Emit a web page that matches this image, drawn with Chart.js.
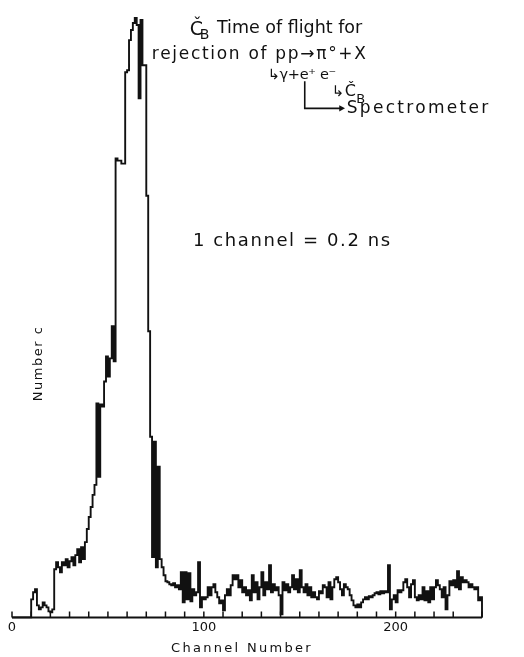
<!DOCTYPE html>
<html>
<head>
<meta charset="utf-8">
<script src="https://cdn.jsdelivr.net/npm/chart.js@4.4.1/dist/chart.umd.min.js"></script>
<style>
  html, body { margin: 0; padding: 0; background: #fff; }
  #tof { display: block; }
</style>
</head>
<body>
<canvas id="tof" width="524" height="657"></canvas>
<script>
// counts per channel, channel 0 .. 245 (last one closes the histogram on the axis)
const counts = [
  0, 0, 0, 0, 0, 0, 0, 0, 0, 0,            // 0
  18, 25, 28, 12, 8, 10, 15, 12, 10, 6,     // 10
  5, 8, 48, 55, 50, 45, 55, 52, 58, 50,     // 20
  56, 60, 52, 62, 68, 55, 70, 58, 75, 88,   // 30
  100, 110, 122, 132, 213, 140, 212, 210, 235, 260,  // 40
  240, 258, 290, 255, 457, 455, 455, 452, 452, 543,  // 50
  545, 575, 585, 592, 597, 590, 517, 595, 550, 550,  // 60
  420, 285, 180, 60, 175, 50, 150, 58, 50, 42,       // 70
  36, 35, 33, 32, 34, 30, 32, 28, 45, 15,   // 80
  45, 18, 44, 16, 28, 22, 25, 55, 10, 20,   // 90
  18, 20, 30, 22, 30, 33, 25, 20, 14, 17,   // 100
  7, 22, 28, 22, 32, 42, 38, 42, 30, 37,    // 110
  25, 30, 22, 27, 17, 42, 25, 35, 18, 30,   // 120
  45, 22, 35, 28, 52, 25, 33, 27, 30, 22,   // 130
  3, 35, 27, 33, 25, 30, 42, 28, 38, 25,    // 140
  47, 30, 25, 33, 22, 30, 20, 25, 20, 18,   // 150
  26, 24, 32, 30, 20, 35, 18, 30, 38, 40,   // 160
  35, 28, 22, 33, 30, 28, 22, 17, 12, 10,   // 170
  13, 10, 15, 18, 20, 18, 21, 20, 22, 24,   // 180
  25, 23, 26, 24, 26, 25, 52, 8, 18, 22,    // 190
  15, 27, 25, 27, 35, 38, 30, 20, 33, 37,   // 200
  20, 17, 22, 18, 30, 17, 26, 15, 30, 18,   // 210
  30, 37, 32, 28, 20, 30, 8, 22, 36, 32,    // 220
  37, 30, 46, 28, 40, 35, 37, 35, 30, 33,   // 230
  30, 28, 30, 17, 20, 0                     // 240
];
const labelledTicks = [0, 100, 200];
const xTitle = 'Channel Number';
const yTitle = 'Number c';

// lettering on the plot, placed in channel / count units
const notes = [
  {text: 'Č', x: 92.7, y: 580, size: 19},
  {text: 'B', x: 97.9, y: 576, size: 14},
  {text: 'Time of flight for', x: 106.8, y: 582, size: 17.5},
  {text: 'rejection of pp→π°+X', x: 72.9, y: 556, size: 17, spacing: 1.7},
  {text: '↳γ+e⁺ e⁻', x: 133.3, y: 536, size: 14.5, spacing: -0.3},
  {text: '↳', x: 166.7, y: 519, size: 15},
  {text: 'Č', x: 173.4, y: 519, size: 16},
  {text: 'B', x: 179.5, y: 512, size: 13},
  {text: 'Spectrometer', x: 174.5, y: 502, size: 17, spacing: 2.3},
  {text: '1 channel = 0.2 ns', x: 94.3, y: 370, size: 18, spacing: 1.6}
];

const lettering = {
  id: 'lettering',
  afterDraw(chart) {
    const {ctx, chartArea, scales: {x, y}} = chart;
    const base = y.getPixelForValue(0);
    ctx.save();
    ctx.fillStyle = '#111';
    ctx.strokeStyle = '#111';

    // axis line with inward tick marks every 10 channels
    ctx.lineWidth = 2;
    ctx.beginPath();
    ctx.moveTo(x.getPixelForValue(0), base);
    ctx.lineTo(x.getPixelForValue(245), base);
    ctx.stroke();
    ctx.lineWidth = 1.5;
    ctx.beginPath();
    x.ticks.forEach(t => {
      const px = x.getPixelForValue(t.value);
      ctx.moveTo(px, base);
      ctx.lineTo(px, base - 6);
    });
    ctx.stroke();

    ctx.textBaseline = 'alphabetic';
    ctx.textAlign = 'left';
    notes.forEach(n => {
      ctx.font = n.size + 'px "DejaVu Sans"';
      ctx.letterSpacing = (n.spacing || 0) + 'px';
      ctx.fillText(n.text, x.getPixelForValue(n.x), y.getPixelForValue(n.y));
    });

    // e+ goes to the spectrometer
    ctx.lineWidth = 1.6;
    ctx.beginPath();
    ctx.moveTo(x.getPixelForValue(152.6), y.getPixelForValue(534));
    ctx.lineTo(x.getPixelForValue(152.6), y.getPixelForValue(507));
    ctx.lineTo(x.getPixelForValue(171), y.getPixelForValue(507));
    ctx.stroke();
    ctx.beginPath();
    ctx.moveTo(x.getPixelForValue(173.6), y.getPixelForValue(507));
    ctx.lineTo(x.getPixelForValue(170.6), y.getPixelForValue(510));
    ctx.lineTo(x.getPixelForValue(170.6), y.getPixelForValue(504));
    ctx.closePath();
    ctx.fill();

    // axis titles
    ctx.font = '13px "DejaVu Sans"';
    ctx.letterSpacing = '2.3px';
    ctx.textAlign = 'center';
    ctx.fillText(xTitle, (chartArea.left + chartArea.right) / 2 - 5, chart.height - 5);

    ctx.letterSpacing = '1.5px';
    ctx.textBaseline = 'middle';
    ctx.translate(x.getPixelForValue(14), y.getPixelForValue(253));
    ctx.rotate(-Math.PI / 2);
    ctx.fillText(yTitle, 0, 0);
    ctx.restore();
  }
};

new Chart(document.getElementById('tof'), {
  type: 'line',
  data: {
    datasets: [{
      data: counts.map((c, i) => ({x: i, y: c})),
      borderColor: '#111',
      borderWidth: 1.9,
      pointRadius: 0,
      stepped: 'before',
      fill: false,
      clip: 4
    }]
  },
  options: {
    responsive: false,
    animation: false,
    layout: {padding: {left: 12, right: 42, top: 15, bottom: 20}},
    plugins: {legend: {display: false}, tooltip: {enabled: false}},
    scales: {
      x: {
        type: 'linear',
        min: 0,
        max: 245,
        border: {display: false},
        grid: {display: false, drawTicks: false},
        ticks: {
          stepSize: 10,
          autoSkip: false,
          maxRotation: 0,
          padding: 2,
          color: '#111',
          font: {family: 'DejaVu Sans', size: 13},
          callback: v => labelledTicks.includes(v) ? v : ''
        }
      },
      y: {display: false, min: 0, max: 600}
    }
  },
  plugins: [lettering]
});
</script>
</body>
</html>
